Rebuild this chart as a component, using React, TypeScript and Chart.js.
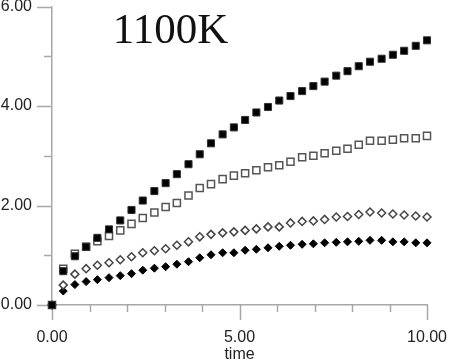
import React, { useEffect, useRef } from "react";
import { Chart, registerables } from "chart.js";

Chart.register(...registerables);

const times = [0, 0.3, 0.61, 0.91, 1.21, 1.52, 1.82, 2.12, 2.42, 2.73, 3.03, 3.33, 3.64, 3.94, 4.24, 4.55, 4.85, 5.15, 5.45, 5.76, 6.06, 6.36, 6.67, 6.97, 7.27, 7.58, 7.88, 8.18, 8.48, 8.79, 9.09, 9.39, 9.7, 10.0];

const filledSquares = [0, 0.68, 0.98, 1.17, 1.35, 1.52, 1.7, 1.91, 2.1, 2.29, 2.45, 2.63, 2.83, 3.03, 3.25, 3.43, 3.57, 3.72, 3.87, 3.98, 4.11, 4.2, 4.3, 4.4, 4.49, 4.61, 4.7, 4.8, 4.89, 4.95, 5.03, 5.11, 5.21, 5.32];
const openSquares = [0, 0.73, 1.03, 1.17, 1.28, 1.39, 1.5, 1.63, 1.75, 1.86, 1.97, 2.05, 2.2, 2.35, 2.43, 2.53, 2.6, 2.65, 2.71, 2.77, 2.81, 2.88, 2.97, 3.0, 3.05, 3.1, 3.14, 3.22, 3.3, 3.3, 3.32, 3.35, 3.35, 3.4];
const openDiamonds = [0, 0.4, 0.62, 0.73, 0.8, 0.85, 0.91, 0.97, 1.05, 1.09, 1.13, 1.2, 1.27, 1.37, 1.42, 1.45, 1.47, 1.5, 1.53, 1.57, 1.57, 1.65, 1.68, 1.69, 1.72, 1.77, 1.78, 1.82, 1.87, 1.85, 1.83, 1.81, 1.79, 1.77];
const filledDiamonds = [0, 0.28, 0.41, 0.47, 0.51, 0.55, 0.59, 0.63, 0.7, 0.74, 0.77, 0.82, 0.87, 0.95, 1.01, 1.05, 1.05, 1.1, 1.12, 1.15, 1.18, 1.2, 1.22, 1.23, 1.25, 1.26, 1.27, 1.28, 1.3, 1.3, 1.27, 1.27, 1.25, 1.25];

const titleText = "1100K";
const xTitle = "time";

const toPoints = (ys: number[]) => ys.map((y, i) => ({ x: times[i], y }));

const AXIS_COLOR = "#a8a8a8";

const tickPlugin = {
  id: "customTicks",
  beforeDatasetsDraw(chart: any) {
    const ctx = chart.ctx;
    const xs = chart.scales.x;
    const ys = chart.scales.y;
    const area = chart.chartArea;
    ctx.save();
    ctx.strokeStyle = AXIS_COLOR;
    ctx.lineWidth = 1.5;
    ctx.beginPath();
    ys.ticks.forEach((t: any) => {
      const py = Math.round(ys.getPixelForValue(t.value)) + 0.5;
      const len = t.value % 2 === 0 ? 15 : 8;
      ctx.moveTo(area.left - len, py);
      ctx.lineTo(area.left, py);
    });
    xs.ticks.forEach((t: any) => {
      const px = Math.round(xs.getPixelForValue(t.value)) + 0.5;
      const len = t.value % 5 === 0 ? 15 : 7;
      ctx.moveTo(px, area.bottom);
      ctx.lineTo(px, area.bottom + len);
    });
    ctx.stroke();
    ctx.fillStyle = "#111";
    ctx.font = '43px "Liberation Serif", "Times New Roman", serif';
    ctx.textAlign = "center";
    ctx.textBaseline = "alphabetic";
    ctx.fillText(titleText, 170.5, 43);
    ctx.restore();
  },
};

export default function App() {
  const ref = useRef<HTMLCanvasElement>(null);
  useEffect(() => {
    if (!ref.current) return;
    const tickFont = { family: '"Liberation Sans", Arial, sans-serif', size: 16 };
    const chart = new Chart(ref.current, {
      type: "scatter",
      data: {
        datasets: [
          {
            data: toPoints(filledSquares),
            pointStyle: "rect",
            pointRadius: 5,
            backgroundColor: "#000",
            borderColor: "#333",
            borderWidth: 1,
            clip: false,
          },
          {
            data: toPoints(openSquares),
            pointStyle: "rect",
            pointRadius: 5,
            backgroundColor: "#fff",
            borderColor: "#555",
            borderWidth: 1.5,
            clip: false,
          },
          {
            data: toPoints(openDiamonds),
            pointStyle: "rectRot",
            pointRadius: 4,
            backgroundColor: "#fff",
            borderColor: "#444",
            borderWidth: 1.5,
            clip: false,
          },
          {
            data: toPoints(filledDiamonds),
            pointStyle: "rectRot",
            pointRadius: 4,
            backgroundColor: "#000",
            borderColor: "#000",
            borderWidth: 1,
            clip: false,
          },
        ],
      },
      options: {
        animation: false,
        responsive: false,
        layout: { padding: { left: 0, top: 5, right: 22, bottom: 0 } },
        plugins: { legend: { display: false }, tooltip: { enabled: false } },
        scales: {
          x: {
            type: "linear",
            min: 0,
            max: 10,
            border: { display: true, color: AXIS_COLOR, width: 1.5 },
            grid: { drawOnChartArea: false, drawTicks: true, tickLength: 15, color: "transparent" },
            ticks: {
              stepSize: 1,
              padding: 8,
              maxRotation: 0,
              autoSkip: false,
              color: "#222",
              font: tickFont,
              callback: (v: any) => (Number(v) % 5 === 0 ? Number(v).toFixed(2) : ""),
            },
            title: {
              display: true,
              text: xTitle,
              color: "#222",
              font: { ...tickFont, lineHeight: 1 },
              padding: { top: 0, bottom: 0 },
            },
            afterFit: (s: any) => {
              s.height = 58;
              s.paddingLeft = 0;
              s.paddingRight = 0;
            },
          },
          y: {
            type: "linear",
            min: 0,
            max: 6,
            border: { display: true, color: AXIS_COLOR, width: 1.5 },
            grid: { drawOnChartArea: false, drawTicks: true, tickLength: 15, color: "transparent" },
            ticks: {
              stepSize: 1,
              padding: 5,
              autoSkip: false,
              color: "#222",
              font: tickFont,
              callback: (v: any) => (Number(v) % 2 === 0 ? Number(v).toFixed(2) : ""),
            },
            afterFit: (s: any) => {
              s.width = 52;
              s.paddingTop = 0;
              s.paddingBottom = 0;
            },
          },
        },
      },
      plugins: [tickPlugin],
    } as any);
    return () => chart.destroy();
  }, []);
  return (
    <div style={{ position: "fixed", left: 0, top: 0, width: 449, height: 363, background: "#fff" }}>
      <canvas ref={ref} width={449} height={363} style={{ display: "block" }} />
    </div>
  );
}
